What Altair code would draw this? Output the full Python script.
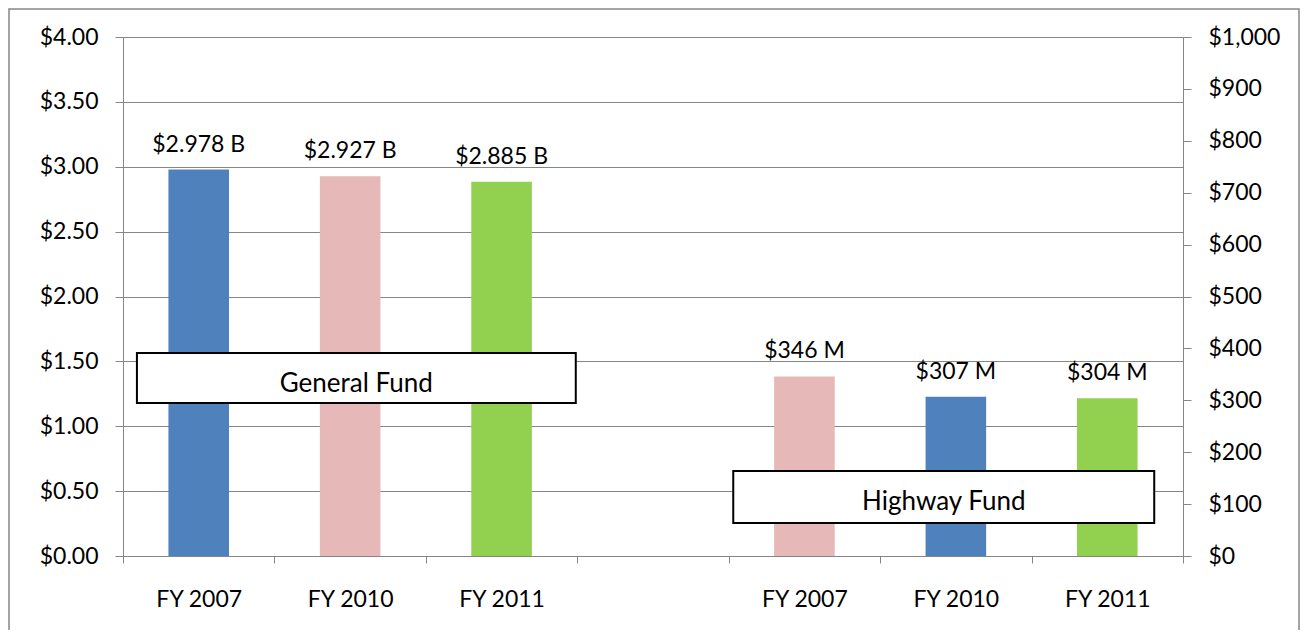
import altair as alt
import pandas as pd

# ---- data ----
slots = ["g07", "g10", "g11", "gap", "h07", "h10", "h11"]
slot_labels = ["FY 2007", "FY 2010", "FY 2011", "", "FY 2007", "FY 2010", "FY 2011"]

general_slots = ["g07", "g10", "g11"]
general_values = [2.978, 2.927, 2.885]          # $ billions (left axis)
general_labels = ["$2.978 B", "$2.927 B", "$2.885 B"]
general_colors = ["#4F81BD", "#E6B9B8", "#92D050"]

highway_slots = ["h07", "h10", "h11"]
highway_values = [346, 307, 304]                # $ millions (right axis)
highway_labels = ["$346 M", "$307 M", "$304 M"]
highway_colors = ["#E6B9B8", "#4F81BD", "#92D050"]

left_ticks = [0, 0.5, 1.0, 1.5, 2.0, 2.5, 3.0, 3.5, 4.0]
right_ticks = [0, 100, 200, 300, 400, 500, 600, 700, 800, 900, 1000]

# annotation boxes (in slot units on x, left-axis units on y)
box_names = ["General Fund", "Highway Fund"]
box_x0 = [0.092, 4.03]
box_x1 = [2.99, 6.81]
box_y0 = [1.179, 0.254]
box_y1 = [1.565, 0.655]
box_tx = [1.54, 5.42]
box_ty = [1.264, 0.3545]

FONT = "Lato"
GRAY = "#868686"
W, H = 1060, 519
FS = 23

gen_df = pd.DataFrame({"slot": general_slots, "value": general_values,
                       "label": general_labels, "color": general_colors})
hw_df = pd.DataFrame({"slot": highway_slots, "value": highway_values,
                      "label": highway_labels, "color": highway_colors})
box_df = pd.DataFrame({"name": box_names, "x0": box_x0, "x1": box_x1,
                       "y0": box_y0, "y1": box_y1, "tx": box_tx, "ty": box_ty})

mapping = "{" + ",".join(f"'{s}':'{l}'" for s, l in zip(slots, slot_labels)) + "}"
label_expr = f"{mapping}[datum.value]"

band_scale = alt.Scale(domain=slots, paddingInner=0, paddingOuter=0)

x_axis = alt.Axis(title=None, labelExpr=label_expr, tickBand="extent", labelAngle=0,
                  labelFont=FONT, labelFontSize=FS, labelColor="black",
                  labelPadding=25, tickSize=7, tickColor=GRAY, domainColor=GRAY,
                  grid=False)

x_gen = alt.X("slot:N", sort=slots, scale=band_scale, axis=x_axis)
x_hw = alt.X("slot:N", sort=slots, scale=band_scale, axis=None)

y_gen = alt.Y("value:Q", scale=alt.Scale(domain=[0, 4], nice=False, zero=True),
              axis=alt.Axis(orient="left", title=None, values=left_ticks, format="$.2f",
                            grid=True, gridColor=GRAY, gridWidth=1,
                            labelFont=FONT, labelFontSize=FS, labelColor="black",
                            labelPadding=17, tickSize=8, tickColor=GRAY,
                            domainColor=GRAY))
y_hw = alt.Y("value:Q", scale=alt.Scale(domain=[0, 1000], nice=False, zero=True),
             axis=alt.Axis(orient="right", title=None, values=right_ticks, format="$,.0f",
                           grid=False,
                           labelFont=FONT, labelFontSize=FS, labelColor="black",
                           labelPadding=17, tickSize=8, tickColor=GRAY,
                           domainColor=GRAY))

bar_w = alt.RelativeBandSize(0.4)

gen_base = alt.Chart(gen_df).encode(x=x_gen, y=y_gen)
gen_layer = alt.layer(
    gen_base.mark_bar(width=bar_w).encode(color=alt.Color("color:N", scale=None)),
    gen_base.mark_text(font=FONT, fontSize=FS, dy=-18, baseline="alphabetic",
                       align="center", color="black").encode(text="label:N"),
)

hw_base = alt.Chart(hw_df).encode(x=x_hw, y=y_hw)
hw_layer = alt.layer(
    hw_base.mark_bar(width=bar_w).encode(color=alt.Color("color:N", scale=None)),
    hw_base.mark_text(font=FONT, fontSize=FS, dy=-18, baseline="alphabetic",
                      align="center", color="black").encode(text="label:N"),
)

ax = alt.Scale(domain=[0, 7], nice=False, zero=False)
ay = alt.Scale(domain=[0, 4], nice=False, zero=False)
box_base = alt.Chart(box_df)
annot_layer = alt.layer(
    box_base.mark_rect(fill="white", stroke="black", strokeWidth=2).encode(
        x=alt.X("x0:Q", scale=ax, axis=None), x2="x1",
        y=alt.Y("y0:Q", scale=ay, axis=None), y2="y1"),
    box_base.mark_text(font=FONT, fontSize=26, baseline="alphabetic",
                       align="center", color="black").encode(
        x=alt.X("tx:Q", scale=ax, axis=None),
        y=alt.Y("ty:Q", scale=ay, axis=None),
        text="name:N"),
)

frame = alt.Chart(pd.DataFrame({"a": [0]})).mark_rect(
    fillOpacity=0, stroke=GRAY, strokeWidth=1.5).encode(
    x=alt.value(-114), x2=alt.value(1176), y=alt.value(-28), y2=alt.value(620))

chart = alt.layer(frame, gen_layer, hw_layer, annot_layer).resolve_scale(
    x="independent", y="independent"
).properties(
    width=W, height=H,
    autosize=alt.AutoSizeParams(type="none"),
    padding={"left": 115, "top": 29, "right": 118, "bottom": 74},
).configure_view(stroke=None)

chart.save("out.html", embed_options={"renderer": "svg", "actions": False})
